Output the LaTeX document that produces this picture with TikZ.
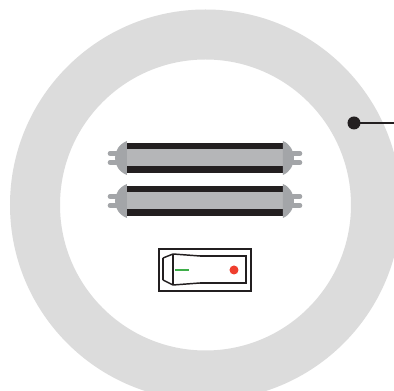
\documentclass[tikz,border=0pt]{standalone}
\definecolor{ringgray}{HTML}{DCDCDC}
\definecolor{capgray}{HTML}{A3A5A8}
\definecolor{tubegray}{HTML}{B5B6B8}
\definecolor{barblack}{HTML}{231F20}
\definecolor{lampred}{HTML}{EF3E2E}
\definecolor{lampgreen}{HTML}{3FAE49}
\tikzset{
  ink/.style={draw=barblack},
  prong/.style={draw=capgray,line width=3.4pt,line cap=round},
  pics/tube/.style={code={
    \fill[tubegray] (127,-13) rectangle (283,13);
    \fill[barblack] (127,-15) rectangle (283,-9);
    \fill[barblack] (127,8.5) rectangle (283,15.5);
    \fill[capgray] (127,-17) .. controls (119,-14) and (115,-7) .. (115,0)
       .. controls (115,7) and (119,14) .. (127,17) -- cycle;
    \fill[capgray] (283,-17) .. controls (290,-14) and (294,-7) .. (294,0)
       .. controls (294,7) and (290,14) .. (283,17) -- cycle;
    \draw[prong] (110,-4.5) -- (116,-4.5);
    \draw[prong] (110,4.5) -- (116,4.5);
    \draw[prong] (293,-4.5) -- (300,-4.5);
    \draw[prong] (293,4.5) -- (300,4.5);
  }}
}
\begin{document}
\begin{tikzpicture}[x=0.75pt,y=-0.75pt]
\useasboundingbox (0,0) rectangle (394,391);
\clip (0,0) rectangle (394,391);
\fill[white] (0,0) rectangle (394,391);
% ring
\fill[ringgray,even odd rule] (205.5,205) circle[radius=195.5] (205.5,205) circle[radius=145.5];
% lamps
\pic at (0,158) {tube};
\pic at (0,201) {tube};
% switch
\draw[ink,line width=1.2pt] (159,249) rectangle (251,291);
\draw[ink,line width=2pt] (200,256) -- (246,256) -- (246,283) -- (200,283);
\draw[ink,line width=1.1pt] (163,258) -- (173,254) -- (200,256);
\draw[ink,line width=1.1pt] (163,280) -- (173,285) -- (200,283);
\draw[ink,line width=1.1pt] (163,258) -- (163,280);
\draw[ink,line width=1.1pt] (173,254) -- (173,285);
\draw[lampgreen,line width=1.2pt] (175,270) -- (189,270);
\fill[lampred] (234,270) circle[radius=4.5];
% leader
\coordinate (dot) at (354,123);
\coordinate (leaderend) at (394,123);
\fill[barblack] (dot) circle[radius=6.5];
\draw[ink,line width=1pt] (dot) -- (leaderend);
\end{tikzpicture}
\end{document}
